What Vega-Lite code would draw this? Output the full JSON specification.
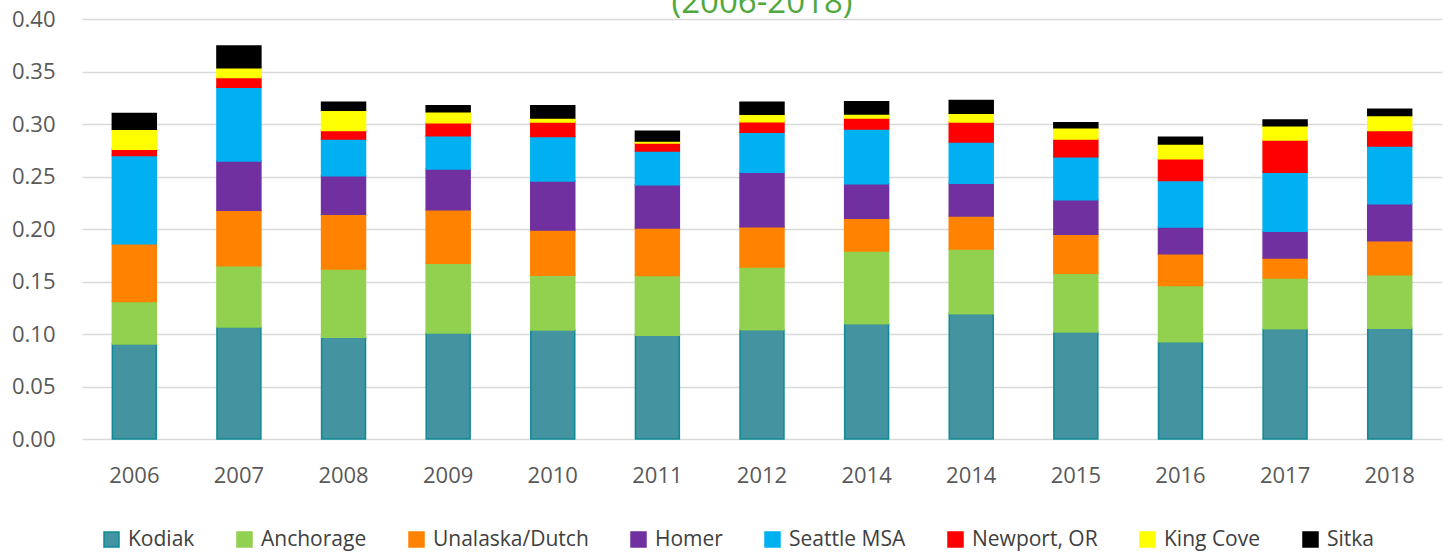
{
  "$schema": "https://vega.github.io/schema/vega-lite/v6.json",
  "width": 1360,
  "height": 420,
  "autosize": {"type": "none"},
  "padding": {"left": 82, "top": 19, "right": 6, "bottom": 113},
  "background": "white",
  "title": {"text": "(2006-2018)", "color": "#4fa83d", "font": "Open Sans", "fontSize": 33, "fontWeight": "normal", "anchor": "middle", "baseline": "alphabetic", "offset": 0, "dy": 38},
  "config": {
    "view": {"stroke": null},
    "font": "Open Sans",
    "axis": {"labelFont": "Open Sans", "labelFontSize": 22, "labelColor": "#595959", "ticks": false, "domain": false, "title": null},
    "legend": {"labelFont": "Open Sans", "labelFontSize": 21, "labelColor": "#404040"}
  },
  "data": {"values": [
    {"year": "2006", "city": "Kodiak", "r": 1, "v": 0.0905},
    {"year": "2006", "city": "Anchorage", "r": 2, "v": 0.0405},
    {"year": "2006", "city": "Unalaska/Dutch", "r": 3, "v": 0.055},
    {"year": "2006", "city": "Seattle MSA", "r": 5, "v": 0.084},
    {"year": "2006", "city": "Newport, OR", "r": 6, "v": 0.006},
    {"year": "2006", "city": "King Cove", "r": 7, "v": 0.019},
    {"year": "2006", "city": "Sitka", "r": 8, "v": 0.015},
    {"year": "2007", "city": "Kodiak", "r": 1, "v": 0.1067},
    {"year": "2007", "city": "Anchorage", "r": 2, "v": 0.0583},
    {"year": "2007", "city": "Unalaska/Dutch", "r": 3, "v": 0.0528},
    {"year": "2007", "city": "Homer", "r": 4, "v": 0.047},
    {"year": "2007", "city": "Seattle MSA", "r": 5, "v": 0.0702},
    {"year": "2007", "city": "Newport, OR", "r": 6, "v": 0.0094},
    {"year": "2007", "city": "King Cove", "r": 7, "v": 0.0092},
    {"year": "2007", "city": "Sitka", "r": 8, "v": 0.0207},
    {"year": "2008", "city": "Kodiak", "r": 1, "v": 0.0968},
    {"year": "2008", "city": "Anchorage", "r": 2, "v": 0.0652},
    {"year": "2008", "city": "Unalaska/Dutch", "r": 3, "v": 0.052},
    {"year": "2008", "city": "Homer", "r": 4, "v": 0.0368},
    {"year": "2008", "city": "Seattle MSA", "r": 5, "v": 0.0349},
    {"year": "2008", "city": "Newport, OR", "r": 6, "v": 0.008},
    {"year": "2008", "city": "King Cove", "r": 7, "v": 0.0193},
    {"year": "2008", "city": "Sitka", "r": 8, "v": 0.0076},
    {"year": "2009", "city": "Kodiak", "r": 1, "v": 0.101},
    {"year": "2009", "city": "Anchorage", "r": 2, "v": 0.0663},
    {"year": "2009", "city": "Unalaska/Dutch", "r": 3, "v": 0.0511},
    {"year": "2009", "city": "Homer", "r": 4, "v": 0.0387},
    {"year": "2009", "city": "Seattle MSA", "r": 5, "v": 0.0318},
    {"year": "2009", "city": "Newport, OR", "r": 6, "v": 0.0124},
    {"year": "2009", "city": "King Cove", "r": 7, "v": 0.0104},
    {"year": "2009", "city": "Sitka", "r": 8, "v": 0.0058},
    {"year": "2010", "city": "Kodiak", "r": 1, "v": 0.1038},
    {"year": "2010", "city": "Anchorage", "r": 2, "v": 0.0522},
    {"year": "2010", "city": "Unalaska/Dutch", "r": 3, "v": 0.043},
    {"year": "2010", "city": "Homer", "r": 4, "v": 0.0467},
    {"year": "2010", "city": "Seattle MSA", "r": 5, "v": 0.0423},
    {"year": "2010", "city": "Newport, OR", "r": 6, "v": 0.0139},
    {"year": "2010", "city": "King Cove", "r": 7, "v": 0.0038},
    {"year": "2010", "city": "Sitka", "r": 8, "v": 0.0118},
    {"year": "2011", "city": "Kodiak", "r": 1, "v": 0.0987},
    {"year": "2011", "city": "Anchorage", "r": 2, "v": 0.0569},
    {"year": "2011", "city": "Unalaska/Dutch", "r": 3, "v": 0.0454},
    {"year": "2011", "city": "Homer", "r": 4, "v": 0.0412},
    {"year": "2011", "city": "Seattle MSA", "r": 5, "v": 0.0321},
    {"year": "2011", "city": "Newport, OR", "r": 6, "v": 0.0076},
    {"year": "2011", "city": "King Cove", "r": 7, "v": 0.0019},
    {"year": "2011", "city": "Sitka", "r": 8, "v": 0.0092},
    {"year": "2012", "city": "Kodiak", "r": 1, "v": 0.1041},
    {"year": "2012", "city": "Anchorage", "r": 2, "v": 0.0597},
    {"year": "2012", "city": "Unalaska/Dutch", "r": 3, "v": 0.0384},
    {"year": "2012", "city": "Homer", "r": 4, "v": 0.0518},
    {"year": "2012", "city": "Seattle MSA", "r": 5, "v": 0.0381},
    {"year": "2012", "city": "Newport, OR", "r": 6, "v": 0.0101},
    {"year": "2012", "city": "King Cove", "r": 7, "v": 0.007},
    {"year": "2012", "city": "Sitka", "r": 8, "v": 0.0114},
    {"year": "2014", "city": "Kodiak", "r": 1, "v": 0.1098},
    {"year": "2014", "city": "Anchorage", "r": 2, "v": 0.0692},
    {"year": "2014", "city": "Unalaska/Dutch", "r": 3, "v": 0.0312},
    {"year": "2014", "city": "Homer", "r": 4, "v": 0.033},
    {"year": "2014", "city": "Seattle MSA", "r": 5, "v": 0.052},
    {"year": "2014", "city": "Newport, OR", "r": 6, "v": 0.0105},
    {"year": "2014", "city": "King Cove", "r": 7, "v": 0.0038},
    {"year": "2014", "city": "Sitka", "r": 8, "v": 0.0118},
    {"year": "2014 ", "city": "Kodiak", "r": 1, "v": 0.1194},
    {"year": "2014 ", "city": "Anchorage", "r": 2, "v": 0.0616},
    {"year": "2014 ", "city": "Unalaska/Dutch", "r": 3, "v": 0.0314},
    {"year": "2014 ", "city": "Homer", "r": 4, "v": 0.0311},
    {"year": "2014 ", "city": "Seattle MSA", "r": 5, "v": 0.0394},
    {"year": "2014 ", "city": "Newport, OR", "r": 6, "v": 0.019},
    {"year": "2014 ", "city": "King Cove", "r": 7, "v": 0.0083},
    {"year": "2014 ", "city": "Sitka", "r": 8, "v": 0.0123},
    {"year": "2015", "city": "Kodiak", "r": 1, "v": 0.1019},
    {"year": "2015", "city": "Anchorage", "r": 2, "v": 0.0559},
    {"year": "2015", "city": "Unalaska/Dutch", "r": 3, "v": 0.0372},
    {"year": "2015", "city": "Homer", "r": 4, "v": 0.0329},
    {"year": "2015", "city": "Seattle MSA", "r": 5, "v": 0.041},
    {"year": "2015", "city": "Newport, OR", "r": 6, "v": 0.0168},
    {"year": "2015", "city": "King Cove", "r": 7, "v": 0.0108},
    {"year": "2015", "city": "Sitka", "r": 8, "v": 0.0048},
    {"year": "2016", "city": "Kodiak", "r": 1, "v": 0.0927},
    {"year": "2016", "city": "Anchorage", "r": 2, "v": 0.0536},
    {"year": "2016", "city": "Unalaska/Dutch", "r": 3, "v": 0.0302},
    {"year": "2016", "city": "Homer", "r": 4, "v": 0.0254},
    {"year": "2016", "city": "Seattle MSA", "r": 5, "v": 0.0444},
    {"year": "2016", "city": "Newport, OR", "r": 6, "v": 0.0207},
    {"year": "2016", "city": "King Cove", "r": 7, "v": 0.014},
    {"year": "2016", "city": "Sitka", "r": 8, "v": 0.0063},
    {"year": "2017", "city": "Kodiak", "r": 1, "v": 0.105},
    {"year": "2017", "city": "Anchorage", "r": 2, "v": 0.0483},
    {"year": "2017", "city": "Unalaska/Dutch", "r": 3, "v": 0.0191},
    {"year": "2017", "city": "Homer", "r": 4, "v": 0.0254},
    {"year": "2017", "city": "Seattle MSA", "r": 5, "v": 0.0562},
    {"year": "2017", "city": "Newport, OR", "r": 6, "v": 0.0308},
    {"year": "2017", "city": "King Cove", "r": 7, "v": 0.0136},
    {"year": "2017", "city": "Sitka", "r": 8, "v": 0.0054},
    {"year": "2018", "city": "Kodiak", "r": 1, "v": 0.1054},
    {"year": "2018", "city": "Anchorage", "r": 2, "v": 0.0511},
    {"year": "2018", "city": "Unalaska/Dutch", "r": 3, "v": 0.0324},
    {"year": "2018", "city": "Homer", "r": 4, "v": 0.0352},
    {"year": "2018", "city": "Seattle MSA", "r": 5, "v": 0.0549},
    {"year": "2018", "city": "Newport, OR", "r": 6, "v": 0.0147},
    {"year": "2018", "city": "King Cove", "r": 7, "v": 0.0143},
    {"year": "2018", "city": "Sitka", "r": 8, "v": 0.006}
  ]},
  "mark": {"type": "bar", "strokeWidth": 1.5},
  "encoding": {
    "x": {"field": "year", "type": "nominal", "sort": null,
      "scale": {"paddingInner": 0.58, "paddingOuter": 0.29},
      "axis": {"labelAngle": 0, "labelPadding": 26, "grid": false, "labelExpr": "trim(datum.label)"}},
    "y": {"field": "v", "type": "quantitative", "stack": "zero",
      "scale": {"domain": [0, 0.4], "nice": false},
      "axis": {"values": [0, 0.05, 0.1, 0.15, 0.2, 0.25, 0.3, 0.35, 0.4], "format": ".2f", "grid": true, "gridColor": "#d9d9d9", "gridWidth": 1.5, "labelPadding": 27}},
    "order": {"field": "r", "type": "quantitative", "sort": "ascending"},
    "color": {"field": "city", "type": "nominal",
      "scale": {"domain": ["Kodiak", "Anchorage", "Unalaska/Dutch", "Homer", "Seattle MSA", "Newport, OR", "King Cove", "Sitka"],
        "range": ["#4393a0", "#92d050", "#ff8300", "#7030a0", "#00b0f0", "#ff0000", "#ffff00", "#000000"]},
      "legend": {"title": null, "orient": "none", "legendX": 19, "legendY": 510, "direction": "horizontal", "symbolType": "square", "symbolSize": 225, "symbolStrokeWidth": 1.5, "labelOffset": 6, "columnPadding": 39, "labelLimit": 300}},
    "stroke": {"field": "city", "type": "nominal",
      "scale": {"domain": ["Kodiak", "Anchorage", "Unalaska/Dutch", "Homer", "Seattle MSA", "Newport, OR", "King Cove", "Sitka"],
        "range": ["#0e8a96", "#92d050", "#ff8300", "#7030a0", "#00b0f0", "#ff0000", "#ffff00", "#000000"]},
      "legend": null}
  }
}
